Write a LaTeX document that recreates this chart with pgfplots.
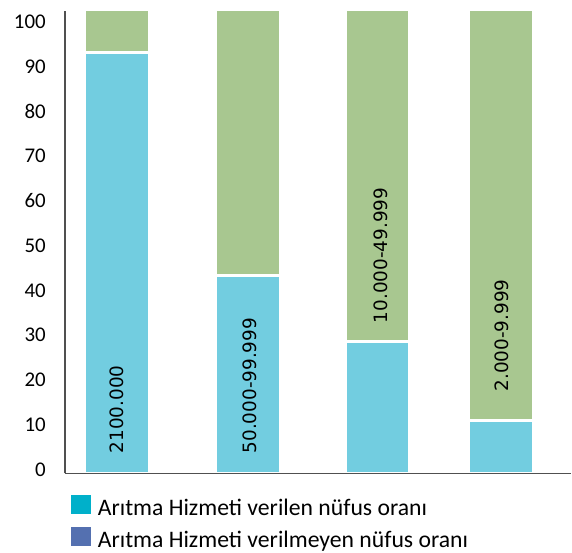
\documentclass[border=0pt]{standalone}
\usepackage{fontspec}
\setmainfont{Carlito}
\newfontfamily\djv{DejaVu Sans}
\usepackage{pgfplots}
\pgfplotsset{compat=1.18}
\definecolor{barblue}{RGB}{114,205,224}
\definecolor{bargreen}{RGB}{168,199,144}
\definecolor{legcyan}{RGB}{0,176,202}
\definecolor{legblue}{RGB}{84,112,176}
\definecolor{axgray}{RGB}{80,80,80}

\begin{document}
\begin{tikzpicture}
\path (0bp,0bp) rectangle (572bp,549bp);
\begin{axis}[
  at={(65bp,75bp)}, anchor=south west,
  scale only axis, width=507bp, height=463bp,
  xmin=65, xmax=572, ymin=0, ymax=103.28,
  ybar stacked, bar width=65bp,
  axis on top,
  axis lines=left, axis line style={-, axgray, line width=1.5bp},
  xtick=\empty, ytick={0,10,...,100},
  major tick length=0pt,
  yticklabel style={font=\fontsize{21}{25}\selectfont, inner sep=0pt,
                    anchor=east, xshift=-19bp, yshift=4bp},
  /pgf/number format/assume math mode=true,
  legend cell align=left,
  legend style={at={(0.01183,-0.0562)}, anchor=north west, draw=none,
                fill=none, inner sep=0pt, outer sep=0pt,
                row sep=11bp, column sep=27bp,
                nodes={inner sep=0pt, text height=16bp, text depth=5bp,
                       font=\fontsize{23.8}{28}\selectfont}},
]
  % bars: served share (bottom) and the rest (top)
  \addplot[fill=barblue, draw=white, line width=3bp, forget plot]
    coordinates {(117,94.1) (248,44.3) (378,29.4) (502,11.7)};
  \addplot[fill=bargreen, draw=white, line width=3bp, forget plot]
    coordinates {(117,9.5) (248,59.3) (378,74.2) (502,91.9)};

  \addlegendimage{legend image code/.code={%
    \fill[legcyan,draw=none,overlay] (0bp,-4bp) rectangle (20bp,15bp);}}
  \addlegendentry{Arıtma Hizmeti verilen nüfus oranı}
  \addlegendimage{legend image code/.code={%
    \fill[legblue,draw=none,overlay] (0bp,-4bp) rectangle (20bp,15bp);}}
  \addlegendentry{Arıtma Hizmeti verilmeyen nüfus oranı}

  \coordinate (l1) at (axis cs:116.5,14.3);
  \coordinate (l2) at (axis cs:250,19.6);
  \coordinate (l3) at (axis cs:381,48.7);
  \coordinate (l4) at (axis cs:502.5,30.8);
\end{axis}
\begin{scope}[every node/.style={rotate=90, inner sep=0pt,
    font=\djv\fontsize{18.5}{22}\selectfont}]
  \node at (l1) {2100.000};
  \node at (l2) {50.000-99.999};
  \node at (l3) {10.000-49.999};
  \node at (l4) {2.000-9.999};
\end{scope}
\end{tikzpicture}
\end{document}
